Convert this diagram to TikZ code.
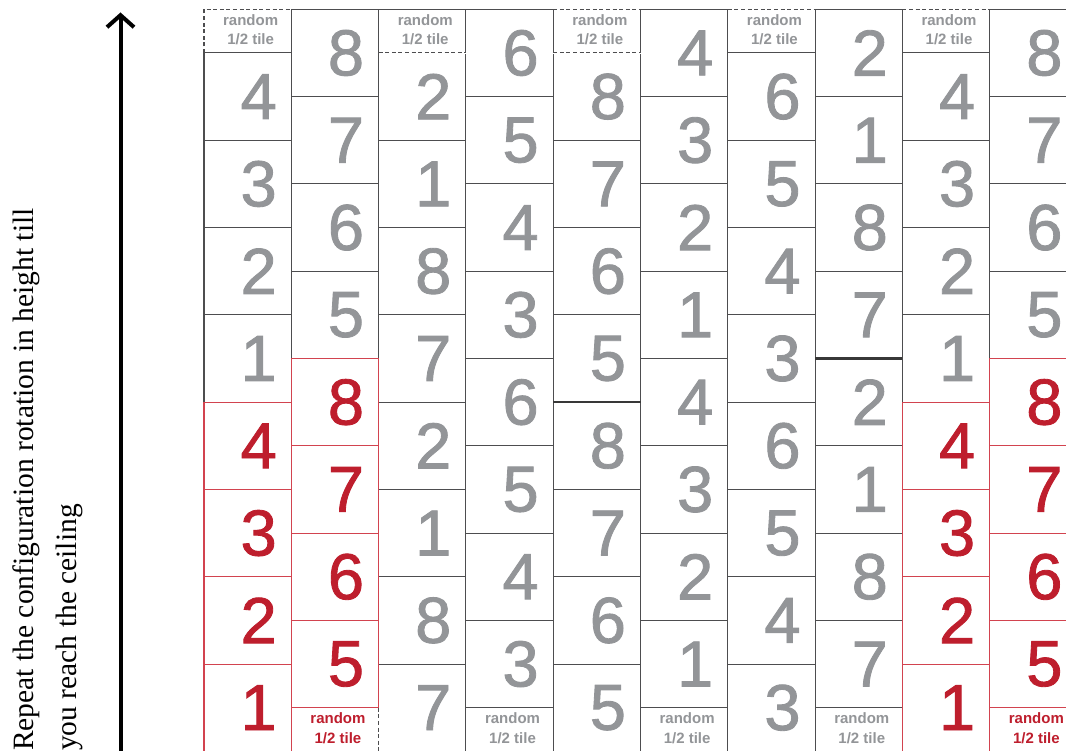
\documentclass[tikz,border=0pt]{standalone}
\usepackage{fontspec}
\setmainfont{Liberation Serif}
\newfontfamily\arialfam{Liberation Sans}
\newfontfamily\digitfam{Liberation Sans}[FakeBold=1.3]
\usetikzlibrary{arrows.meta}
\definecolor{tgray}{HTML}{939598}
\definecolor{tred}{HTML}{BE1E2D}
\definecolor{lgray}{HTML}{4D4D4F}
\definecolor{lred}{HTML}{D2434F}
\newcommand\mytiledigits{\digitfam\fontsize{65}{65}\selectfont}
\newcommand\myhalffont{\arialfam\bfseries\fontsize{15}{15}\selectfont}
\newcommand\mynotefont{\fontsize{29.5}{30}\selectfont}
\begin{document}
\begin{tikzpicture}[x=1pt,y=-1pt,
  tile/.style={draw=lgray, line width=1.05pt, fill=white, minimum width=87.3pt, minimum height=87.3pt, inner sep=0pt, outer sep=0pt, anchor=north west},
  halftile/.style={tile, minimum height=43.65pt},
  redline/.style={draw=lred, line width=1.1pt},
  thickline/.style={draw=black!78, line width=2.4pt},
  dashline/.style={draw=lgray, line width=1.1pt, dash pattern=on 4pt off 2.6pt},
  whiteline/.style={draw=white, line width=2pt},
  digit/.style={font=\mytiledigits, inner sep=0pt, anchor=center},
  halftext/.style={font=\myhalffont, inner sep=0pt, anchor=base},
  note/.style={font=\mynotefont, inner sep=0pt, rotate=90, anchor=base west, text=black}
]
\useasboundingbox (0,0) rectangle (1066,751);
\clip (0,0) rectangle (1066,751);
\fill[white] (0,0) rectangle (1066,751);

% pass 1: tiles
\foreach \i/\pa/\pb/\pc/\pd/\hh in {0/4/3/2/1/1,1/8/7/6/5/0,2/2/1/8/7/1,3/6/5/4/3/0,4/8/7/6/5/1,5/4/3/2/1/0,6/6/5/4/3/1,7/2/1/8/7/0,8/4/3/2/1/1,9/8/7/6/5/0}{
  \pgfmathsetmacro\X{204+\i*87.3}
  \pgfmathsetmacro\Yt{9.3+\hh*43.65}
  \foreach \n [count=\k from 0] in {\pa,\pb,\pc,\pd,\pa,\pb,\pc,\pd}{
    \pgfmathsetmacro\Y{\Yt+\k*87.3}
    \node[tile] (t-\i-\k) at (\X,\Y) {};
  }
  \ifnum\hh=1
    \node[halftile] (h-\i) at (\X,9.3) {};
  \else
    \node[halftile] (h-\i) at (\X,707.7) {};
  \fi
}

% pass 2: red outlines, digits, half-tile texts
\foreach \i/\pa/\pb/\pc/\pd/\hh in {0/4/3/2/1/1,1/8/7/6/5/0,2/2/1/8/7/1,3/6/5/4/3/0,4/8/7/6/5/1,5/4/3/2/1/0,6/6/5/4/3/1,7/2/1/8/7/0,8/4/3/2/1/1,9/8/7/6/5/0}{
  \pgfmathtruncatemacro\redcol{(\i==0)||(\i==1)||(\i==8)||(\i==9)}
  \foreach \n [count=\k from 0] in {\pa,\pb,\pc,\pd,\pa,\pb,\pc,\pd}{
    \pgfmathtruncatemacro\isred{(\redcol==1)&&(\k>3)}
    \ifnum\isred=1
      \draw[redline] (t-\i-\k.north west) rectangle (t-\i-\k.south east);
      \path (t-\i-\k.center) ++(11,0) node[digit, text=tred] (d-\i-\k) {\n};
    \else
      \path (t-\i-\k.center) ++(11,0) node[digit, text=tgray] (d-\i-\k) {\n};
    \fi
  }
  \ifnum\hh=0
    \ifnum\redcol=1
      \draw[redline] (h-\i.north west) rectangle (h-\i.south east);
      \path (h-\i.north) ++(3,16) node[halftext, text=tred] (ra-\i) {random};
      \path (h-\i.north) ++(3,35.3) node[halftext, text=tred] (rb-\i) {1/2 tile};
    \else
      \path (h-\i.north) ++(3,16) node[halftext, text=tgray] (ra-\i) {random};
      \path (h-\i.north) ++(3,35.3) node[halftext, text=tgray] (rb-\i) {1/2 tile};
    \fi
  \else
    \path (h-\i.north) ++(3,16) node[halftext, text=tgray] (ra-\i) {random};
    \path (h-\i.north) ++(3,35.3) node[halftext, text=tgray] (rb-\i) {1/2 tile};
  \fi
}

% dashed edges of the half tiles
\draw[whiteline] (h-0.north west) -- (h-0.north east) (h-0.north west) -- (h-0.south west);
\draw[dashline] (h-0.south west) -- (h-0.north west) -- (h-0.north east);
\draw[whiteline] (h-2.south west) -- (h-2.south east);
\draw[dashline] (h-2.south west) -- (h-2.south east);
\draw[whiteline] (h-4.north west) -- (h-4.north east) (h-4.south west) -- (h-4.south east);
\draw[dashline] (h-4.north west) -- (h-4.north east) (h-4.south west) -- (h-4.south east);
\draw[whiteline] (h-6.north west) -- (h-6.north east);
\draw[dashline] (h-6.north west) -- (h-6.north east);
\draw[whiteline] (h-8.north west) -- (h-8.north east);
\draw[dashline] (h-8.north west) -- (h-8.north east);
\draw[whiteline] (h-1.north east) -- (h-1.south east);
\draw[dashline] (h-1.north east) -- (h-1.south east);

% thicker joints
\draw[thickline] (t-4-3.south west) -- (t-4-3.south east);
\draw[thickline] (t-7-3.south west) -- (t-7-3.south east);

% arrow and note
\coordinate (arrowfoot) at (120.5,752);
\coordinate (arrowtip) at (120.5,12.5);
\draw[line width=4pt, -{Straight Barb[length=12pt, width=27pt]}] (arrowfoot) -- (arrowtip);
\node[note] (note1) at (33.3,751) {Repeat the configuration rotation in height till};
\node[note] (note2) at (76,751) {you reach the ceiling};
\end{tikzpicture}
\end{document}
